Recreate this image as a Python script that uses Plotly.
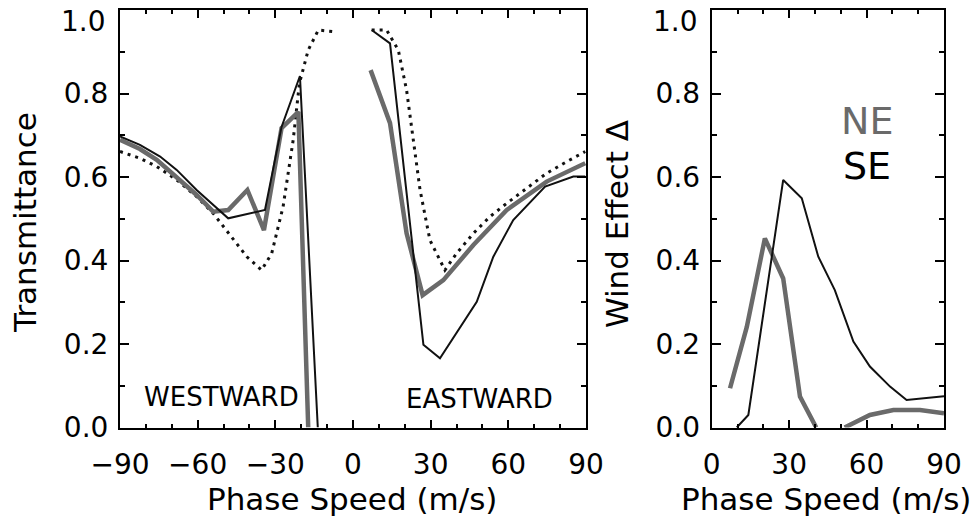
import plotly.graph_objects as go

# ---------------- data ----------------
# Left panel: Transmittance vs phase speed
se_west_x = [-90, -82.3, -74.5, -68.1, -60.4, -52.7, -48.2, -34.0, -27.6, -20.5, -13.6]
se_west_y = [0.697, 0.677, 0.649, 0.617, 0.569, 0.525, 0.501, 0.521, 0.720, 0.842, 0.0]
se_east_x = [7.2, 14.3, 27.2, 33.6, 47.8, 54.2, 61.9, 74.2, 85.1, 89.7]
se_east_y = [0.952, 0.920, 0.198, 0.166, 0.301, 0.409, 0.497, 0.577, 0.601, 0.601]

ne_west_x = [-90, -82.3, -75.8, -60.4, -54.0, -48.2, -40.8, -34.4, -27.6, -21.1, -17.3]
ne_west_y = [0.689, 0.667, 0.641, 0.557, 0.517, 0.521, 0.569, 0.473, 0.717, 0.756, 0.0]
ne_east_x = [6.8, 14.3, 20.7, 26.9, 34.9, 46.5, 59.4, 74.8, 89.7]
ne_east_y = [0.856, 0.729, 0.465, 0.317, 0.353, 0.437, 0.521, 0.589, 0.633]

nowind_west_x = [-90, -82.3, -75.8, -68.1, -60.4, -54.0, -47.5, -41.0, -35.3, -31.4, -27.0,
                 -23.1, -20.7, -17.3, -13.4, -10.2, -7.0]
nowind_west_y = [0.661, 0.645, 0.625, 0.593, 0.553, 0.513, 0.461, 0.409, 0.377, 0.417, 0.529,
                 0.689, 0.824, 0.904, 0.952, 0.950, 0.948]
nowind_east_x = [7.2, 13.0, 17.5, 20.7, 25.9, 29.7, 35.5, 40.0, 46.5, 52.9, 59.4, 67.1, 74.8,
                 82.6, 89.7]
nowind_east_y = [0.952, 0.952, 0.904, 0.808, 0.569, 0.449, 0.377, 0.417, 0.465, 0.505, 0.537,
                 0.573, 0.609, 0.637, 0.661]

# Right panel: wind effect delta
ne_delta_x = [7.1, 13.6, 20.6, 27.7, 34.2, 40.5, None, 51.5, 61.3, 70.4, 80.7, 90]
ne_delta_y = [0.094, 0.241, 0.453, 0.357, 0.074, 0.0, None, 0.0, 0.030, 0.042, 0.042, 0.034]
se_delta_x = [9.7, 14.2, 27.7, 34.9, 41.3, 47.7, 54.9, 61.3, 69.1, 75.5, 90]
se_delta_y = [0.0, 0.030, 0.593, 0.549, 0.409, 0.329, 0.206, 0.146, 0.098, 0.066, 0.075]

x_left_ticks = [-90, -60, -30, 0, 30, 60, 90]
x_right_ticks = [0, 30, 60, 90]
y_ticks = [0.0, 0.2, 0.4, 0.6, 0.8, 1.0]
y_tick_text = ["0.0", "0.2", "0.4", "0.6", "0.8", ""]   # "1.0" placed just below the top edge
top_label = "1.0"

# ---------------- styles ----------------
GRAY = "#6a6a6a"
BLACK = "#111111"
FONT = "DejaVu Sans"

fig = go.Figure()

def add(x, y, xa, ya, color, width, dash=None, name=None):
    fig.add_trace(go.Scatter(
        x=x, y=y, xaxis=xa, yaxis=ya, mode="lines", name=name,
        line=dict(color=color, width=width, dash=dash) if dash else dict(color=color, width=width),
        connectgaps=False, showlegend=False, hoverinfo="x+y"))

# left panel
add(nowind_west_x, nowind_west_y, "x", "y", BLACK, 3, "3px,5px", "No wind")
add(nowind_east_x, nowind_east_y, "x", "y", BLACK, 3, "3px,5px", "No wind")
add(ne_west_x, ne_west_y, "x", "y", GRAY, 4.5, None, "NE")
add(ne_east_x, ne_east_y, "x", "y", GRAY, 4.5, None, "NE")
add(se_west_x, se_west_y, "x", "y", BLACK, 2, None, "SE")
add(se_east_x, se_east_y, "x", "y", BLACK, 2, None, "SE")
# right panel
add(ne_delta_x, ne_delta_y, "x2", "y2", GRAY, 4.5, None, "NE")
add(se_delta_x, se_delta_y, "x2", "y2", BLACK, 2, None, "SE")

W, H = 972, 519
L1, R1 = 120, 586
L2, R2 = 711.7, 944
TOP, BOT = 10, 427.5

def xaxis(l, r, rng, ticks, anchor):
    return dict(domain=[l / W, r / W], range=rng, tickvals=ticks,
                ticks="inside", ticklen=8, tickwidth=1.5, tickcolor="black",
                minor=dict(dtick=10, ticks="inside", ticklen=4, tickwidth=1.5, tickcolor="black"),
                showline=True, linecolor="black", linewidth=2, mirror="allticks",
                showgrid=False, zeroline=False, anchor=anchor, automargin=False,
                tickfont=dict(family=FONT, size=28, color="black"),
                ticklabelstandoff=11)

def yaxis(anchor):
    return dict(domain=[1 - BOT / H, 1 - TOP / H], range=[0, 1.0], tickvals=y_ticks,
                ticktext=y_tick_text,
                ticks="inside", ticklen=9, tickwidth=1.5, tickcolor="black",
                minor=dict(dtick=0.1, ticks="inside", ticklen=5, tickwidth=1.5, tickcolor="black"),
                showline=True, linecolor="black", linewidth=2, mirror="allticks",
                showgrid=False, zeroline=False, anchor=anchor, automargin=False,
                tickfont=dict(family=FONT, size=28, color="black"),
                ticklabelstandoff=4)

fig.update_layout(
    width=W, height=H,
    margin=dict(l=0, r=0, t=0, b=0, autoexpand=False),
    paper_bgcolor="white", plot_bgcolor="white",
    xaxis=xaxis(L1, R1, [-90, 90], x_left_ticks, "y"),
    yaxis=yaxis("x"),
    xaxis2=xaxis(L2, R2, [0, 90], x_right_ticks, "y2"),
    yaxis2=yaxis("x2"),
    showlegend=False,
)

ann = []
def text(t, x, y, size, color="black", xref="paper", yref="paper", angle=0, xanchor="center"):
    ann.append(dict(text=t, x=x, y=y, xref=xref, yref=yref, showarrow=False,
                    xanchor=xanchor, yanchor="middle", textangle=angle,
                    font=dict(family=FONT, size=size, color=color)))

# top tick labels (kept inside the page, as in the reference)
text(top_label, 108 / W, 1 - 22 / H, 28, xanchor="right")
text(top_label, 699.7 / W, 1 - 21 / H, 28, xanchor="right")
# axis titles
text("Transmittance", 25 / W, 1 - 223 / H, 31, angle=-90)
text("Wind Effect Δ", 617 / W, 1 - 224 / H, 31, angle=-90)
text("Phase Speed (m/s)", 352 / W, 1 - 499 / H, 31)
text("Phase Speed (m/s)", 826 / W, 1 - 499 / H, 31)
# in-plot labels
text("WESTWARD", -50.8, 0.072, 26, xref="x", yref="y")
text("EASTWARD", 48.9, 0.068, 26, xref="x", yref="y")
text("NE", 60.2, 0.733, 38, color=GRAY, xref="x2", yref="y2")
text("SE", 60.2, 0.626, 38, xref="x2", yref="y2")
fig.update_layout(annotations=ann)

fig.write_html("out.html", config={"displayModeBar": False},
               post_script="document.body.style.margin='0px';")
